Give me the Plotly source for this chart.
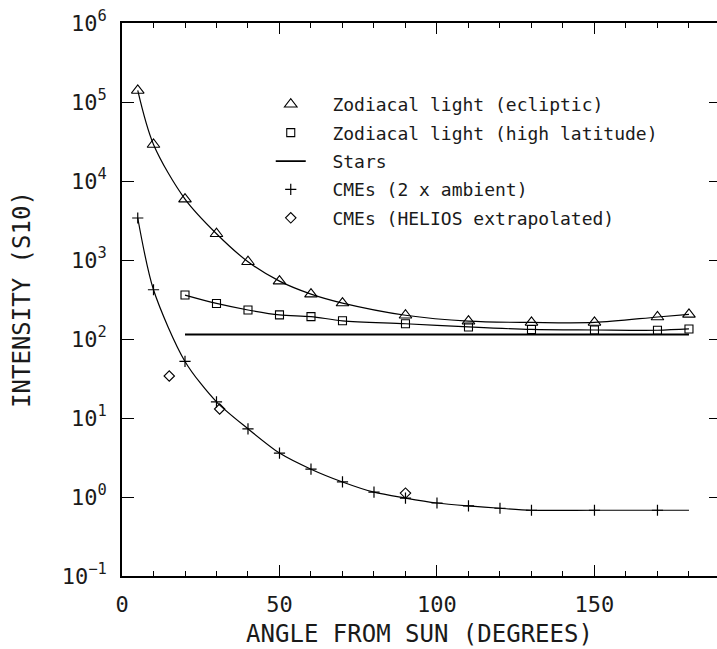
import plotly.graph_objects as go

# Angle from the Sun (degrees) and brightness in S10 units
ecl_angle = [5, 10, 20, 30, 40, 50, 60, 70, 90, 110, 130, 150, 170, 180]
ecl_intensity = [1.4e5, 2.9e4, 5.9e3, 2.15e3, 950, 540, 370, 285, 200, 168, 162, 162, 190, 205]

hilat_angle = [20, 30, 40, 50, 60, 70, 90, 110, 130, 150, 170, 180]
hilat_intensity = [360, 282, 233, 202, 192, 170, 156, 142, 132, 130, 129, 134]

stars_angle = [20, 180]
stars_intensity = [114, 114]

cme_angle = [5, 10, 20, 30, 40, 50, 60, 70, 80, 90, 100, 110, 120, 130, 150, 170]
cme_intensity = [3400, 420, 52, 16, 7.3, 3.6, 2.25, 1.55, 1.15, 0.97, 0.84, 0.77, 0.72, 0.68, 0.68, 0.68]
cme_fit_end_angle = 180
cme_fit_end_intensity = 0.68

helios_angle = [15, 31, 90]
helios_intensity = [34, 13, 1.12]

decades = [1e-1, 1e0, 1e1, 1e2, 1e3, 1e4, 1e5, 1e6]
decade_labels = ["10<sup>\u22121</sup>", "10<sup>0</sup>", "10<sup>1</sup>", "10<sup>2</sup>",
                 "10<sup>3</sup>", "10<sup>4</sup>", "10<sup>5</sup>", "10<sup>6</sup>"]
x_ticks = [0, 50, 100, 150]

FONT = "DejaVu Sans Mono"
PAD = "\u00a0\u00a0"
BLACK = "black"
TEXT = "#1a1a1a"

fig = go.Figure()

# smooth fitted curves through each series
fig.add_trace(go.Scatter(x=ecl_angle, y=ecl_intensity, mode="lines",
                         line=dict(color=BLACK, width=1.2, shape="spline", smoothing=0.9),
                         showlegend=False, hoverinfo="skip"))
fig.add_trace(go.Scatter(x=hilat_angle, y=hilat_intensity, mode="lines",
                         line=dict(color=BLACK, width=1.2, shape="spline", smoothing=0.9),
                         showlegend=False, hoverinfo="skip"))
fig.add_trace(go.Scatter(x=cme_angle + [cme_fit_end_angle],
                         y=cme_intensity + [cme_fit_end_intensity], mode="lines",
                         line=dict(color=BLACK, width=1.2, shape="spline", smoothing=0.8),
                         showlegend=False, hoverinfo="skip"))

# symbols
fig.add_trace(go.Scatter(x=ecl_angle, y=ecl_intensity, mode="markers",
                         name=PAD + "Zodiacal light (ecliptic)", legendgroup="a",
                         marker=dict(symbol="triangle-up-open", size=11, color=BLACK,
                                     line=dict(width=1.1, color=BLACK))))
fig.add_trace(go.Scatter(x=hilat_angle, y=hilat_intensity, mode="markers",
                         name=PAD + "Zodiacal light (high latitude)", legendgroup="b",
                         marker=dict(symbol="square-open", size=8, color=BLACK,
                                     line=dict(width=1.1, color=BLACK))))
fig.add_trace(go.Scatter(x=stars_angle, y=stars_intensity, mode="lines", yaxis="y2",
                         name=PAD + "Stars", legendgroup="c",
                         line=dict(color=BLACK, width=1.8)))
fig.add_trace(go.Scatter(x=cme_angle, y=cme_intensity, mode="markers",
                         name=PAD + "CMEs (2 x ambient)", legendgroup="d",
                         marker=dict(symbol="cross-thin", size=8, color=BLACK,
                                     line=dict(width=1.2, color=BLACK))))
fig.add_trace(go.Scatter(x=helios_angle, y=helios_intensity, mode="markers",
                         name=PAD + "CMEs (HELIOS extrapolated)", legendgroup="e",
                         marker=dict(symbol="diamond-open", size=8, color=BLACK,
                                     line=dict(width=1.1, color=BLACK))))

fig.update_layout(
    width=717, height=649,
    margin=dict(l=122, r=0, t=23, b=73),
    paper_bgcolor="white", plot_bgcolor="white",
    font=dict(family=FONT, color=TEXT),
    xaxis=dict(
        range=[0, 188.9], tickvals=x_ticks, ticks="inside", ticklen=11, tickwidth=1.3,
        tickcolor=BLACK, showline=True, linecolor=BLACK, linewidth=1.5, mirror="ticks",
        showgrid=False, zeroline=False,
        minor=dict(dtick=10, tick0=0, ticks="inside", ticklen=5, tickwidth=1.2, tickcolor=BLACK),
        tickfont=dict(size=22), ticklabelstandoff=8,
        title=dict(text="ANGLE FROM SUN (DEGREES)", font=dict(size=24), standoff=9),
    ),
    yaxis=dict(
        type="log", range=[-1, 6], tickvals=decades, ticktext=decade_labels,
        ticks="inside", ticklen=12, tickwidth=1.3, tickcolor=BLACK,
        showline=True, linecolor=BLACK, linewidth=1.5, showgrid=False, zeroline=False,
        tickfont=dict(size=22), ticklabelstandoff=9,
        title=dict(text="INTENSITY (S10)", font=dict(size=24), standoff=24),
    ),
    yaxis2=dict(
        type="log", range=[-1, 6], tickvals=decades, overlaying="y", side="right",
        showticklabels=False, ticks="inside", ticklen=8, tickwidth=1.3, tickcolor=BLACK,
        showline=False, showgrid=False, zeroline=False,
    ),
    legend=dict(x=0.25, y=0.886, xanchor="left", yanchor="top", bgcolor="rgba(0,0,0,0)",
                font=dict(size=18, family=FONT), tracegroupgap=2, itemwidth=30),
    showlegend=True,
)

fig.write_html("out.html")
